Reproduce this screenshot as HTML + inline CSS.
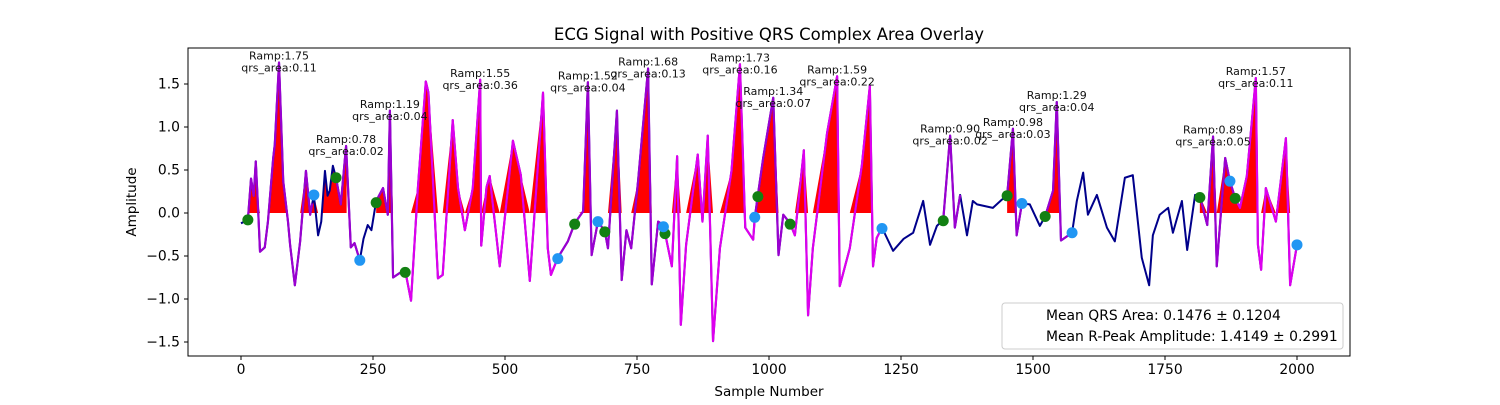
<!DOCTYPE html>
<html><head><meta charset="utf-8"><style>
body{margin:0;background:#fff}
svg text{font-family:"DejaVu Sans","Liberation Sans",sans-serif}
</style></head><body>
<svg id="chart" width="1500" height="400" xmlns="http://www.w3.org/2000/svg">
<rect width="1500" height="400" fill="#fff"/>
<text x="769" y="40" font-size="16.5" text-anchor="middle">ECG Signal with Positive QRS Complex Area Overlay</text>
<g id="plot"></g>
<rect x="188" y="48" width="1162" height="308" fill="none" stroke="#000" stroke-width="1"/>
<text x="769" y="396" font-size="13.5" text-anchor="middle">Sample Number</text>
<text transform="translate(136,202) rotate(-90)" font-size="13.5" text-anchor="middle">Amplitude</text>
<g>
<rect x="1002" y="303" width="341" height="46" rx="3" fill="#fff" fill-opacity="0.8" stroke="#ccc"/>
<text x="1046" y="320" font-size="13.9">Mean QRS Area: 0.1476 ± 0.1204</text>
<text x="1046" y="341" font-size="13.9">Mean R-Peak Amplitude: 1.4149 ± 0.2991</text>
</g>
</svg>
<script>
const samples=[0,13,19,24,28,32,36,45,51,61,64,72,80,89,93,102,112,123,131,138,146,152,159,164,168,174,180,189,199,208,215,225,232,240,247,256,269,278,282,288,300,311,322,335,350,355,373,382,401,411,424,439,453,455,465,471,490,515,530,547,572,581,587,600,619,632,648,657,664,676,689,695,712,721,730,739,752,771,778,790,800,803,816,826,833,843,865,874,884,894,907,929,945,955,970,973,979,989,1008,1018,1027,1040,1049,1066,1074,1083,1110,1129,1134,1153,1176,1191,1197,1204,1214,1235,1255,1273,1292,1305,1318,1330,1343,1352,1362,1375,1386,1394,1424,1440,1451,1462,1469,1479,1494,1513,1523,1538,1545,1553,1574,1583,1595,1604,1621,1640,1655,1674,1689,1706,1720,1727,1740,1756,1765,1782,1792,1807,1816,1830,1841,1848,1864,1873,1883,1892,1905,1922,1926,1932,1941,1960,1979,1987,2000];
const amps=[-0.12,-0.08,0.4,0.2,0.6,0.1,-0.45,-0.4,-0.1,0.64,0.8,1.75,0.37,-0.1,-0.37,-0.84,-0.33,0.49,-0.02,0.21,-0.26,-0.1,0.49,0.2,0.26,0.55,0.41,0.1,0.78,-0.4,-0.35,-0.55,-0.3,-0.14,-0.2,0.14,0.29,-0.02,1.19,-0.75,-0.7,-0.67,-1.02,0.29,1.53,1.4,-0.76,-0.72,1.08,0.29,-0.2,0.29,1.55,-0.38,0.3,0.43,-0.62,0.84,0.44,-0.79,1.4,-0.41,-0.72,-0.52,-0.33,-0.12,0.02,1.52,-0.49,-0.1,-0.21,-0.41,1.19,-0.78,-0.2,-0.41,0.37,1.68,-0.83,-0.1,-0.14,-0.23,-0.62,0.66,-1.3,-0.37,0.68,-0.1,0.9,-1.49,-0.41,0.49,1.73,-0.17,-0.31,-0.06,0.21,0.64,1.34,-0.49,-0.02,-0.12,-0.26,0.73,-1.19,-0.41,0.93,1.59,-0.85,-0.41,0.56,1.48,-0.62,-0.29,-0.17,-0.44,-0.3,-0.23,0.14,-0.37,-0.15,-0.08,0.9,-0.17,0.21,-0.26,0.14,0.1,0.06,0.15,0.2,0.98,-0.26,0.11,0.1,-0.15,-0.04,0.26,1.29,-0.32,-0.23,0.14,0.47,-0.02,0.21,-0.17,-0.33,0.41,0.44,-0.52,-0.84,-0.26,-0.02,0.06,-0.23,0.14,-0.43,0.21,0.2,-0.14,0.89,-0.62,0.64,0.37,0.17,0.06,0.43,1.57,-0.37,-0.66,0.29,-0.1,0.87,-0.84,-0.37];
const purpleSegs=[[13,135],[180,225],[256,311],[600,800],[973,1040],[1330,1362],[1451,1479],[1523,1574],[1816,1883]];
const magentaSegs=[[311,600],[800,973],[1040,1214],[1883,2000]];
const fillRanges=[[13,200],[256,580],[640,1200],[1451,1470],[1523,1553],[1816,1990]];
const onsetS=[13,180,256,311,632,689,803,979,1040,1330,1451,1523,1816,1883];
const onsetV=[-0.08,0.41,0.12,-0.69,-0.13,-0.22,-0.24,0.19,-0.13,-0.09,0.2,-0.04,0.18,0.17];
const offsetS=[138,225,600,676,800,973,1214,1479,1574,1873,2000];
const offsetV=[0.21,-0.55,-0.53,-0.1,-0.16,-0.05,-0.18,0.11,-0.23,0.37,-0.37];
const peakS=[72,199,282,453,657,771,945,1008,1129,1343,1462,1545,1841,1922];
const peakRamp=["1.75","0.78","1.19","1.55","1.52","1.68","1.73","1.34","1.59","0.90","0.98","1.29","0.89","1.57"];
const peakArea=["0.11","0.02","0.04","0.36","0.04","0.13","0.16","0.07","0.22","0.02","0.03","0.04","0.05","0.11"];
const xTicks=[0,250,500,750,1000,1250,1500,1750,2000];
const yTicks=[-1.5,-1.0,-0.5,0.0,0.5,1.0,1.5];

const NS="http://www.w3.org/2000/svg";
const X=s=>241+s*0.528, Y=v=>213-v*86;
const g=document.getElementById('plot');
function mk(t,a){const e=document.createElementNS(NS,t);for(const k in a)e.setAttribute(k,a[k]);return e;}
function interp(s){for(let i=1;i<samples.length;i++){if(samples[i]>=s){const a=samples[i-1],b=samples[i];const t=b===a?0:(s-a)/(b-a);return amps[i-1]+t*(amps[i]-amps[i-1]);}}return amps[amps.length-1];}
function segPts(a,b){const p=[[a,interp(a)]];samples.forEach((s,i)=>{if(s>a&&s<b)p.push([s,amps[i]]);});p.push([b,interp(b)]);return p;}
fillRanges.forEach(r=>{const p=segPts(r[0],r[1]);let d=`M${X(r[0])},${Y(0)}`;p.forEach(q=>{d+=` L${X(q[0])},${Y(Math.max(0,q[1]))}`});d+=` L${X(r[1])},${Y(0)}Z`;
const e=mk('path',{d:d,fill:'#ff0000'});


g.appendChild(e);});
{const p=samples.map((s,i)=>X(s)+','+Y(amps[i])).join(' ');
const e=mk('polyline',{points:p,fill:'none',stroke:'#00008b','stroke-width':2,'stroke-linejoin':'round'});


g.appendChild(e);}
function drawSegs(list,col,name){list.forEach(r=>{const p=segPts(r[0],r[1]).map(q=>X(q[0])+','+Y(q[1])).join(' ');
const e=mk('polyline',{points:p,fill:'none',stroke:col,'stroke-width':2.2,'stroke-linejoin':'round'});


g.appendChild(e);});}
drawSegs(magentaSegs,'#dd00ee','qrs-overlay-segment');
drawSegs(purpleSegs,'#9a00d0','qrs-overlay-segment');
onsetS.forEach((s,i)=>{const e=mk('circle',{cx:X(s),cy:Y(onsetV[i]),r:5.5,fill:'#128012'});


g.appendChild(e);});
offsetS.forEach((s,i)=>{const e=mk('circle',{cx:X(s),cy:Y(offsetV[i]),r:5.5,fill:'#2196f3'});


g.appendChild(e);});
peakS.forEach((s,i)=>{const r=parseFloat(peakRamp[i]);const y=Y(r+0.08);
const t1=mk('text',{x:X(s),y:y+4,'font-size':11,'text-anchor':'middle',fill:'#111'});t1.textContent='Ramp:'+peakRamp[i];


g.appendChild(t1);
const t2=mk('text',{x:X(s),y:y+16,'font-size':11,'text-anchor':'middle',fill:'#111'});t2.textContent='qrs_area:'+peakArea[i];


g.appendChild(t2);});
xTicks.forEach(v=>{const x=X(v);
const l=mk('line',{x1:x,x2:x,y1:356,y2:360,stroke:'#000'});


g.appendChild(l);
const t=mk('text',{x:x,y:374,'font-size':13.9,'text-anchor':'middle'});t.textContent=v;


g.appendChild(t);});
yTicks.forEach(v=>{const y=Y(v);
const l=mk('line',{x1:184,x2:188,y1:y,y2:y,stroke:'#000'});


g.appendChild(l);
const t=mk('text',{x:180,y:y+4.5,'font-size':13.9,'text-anchor':'end'});t.textContent=(v<0?'−':'')+Math.abs(v).toFixed(1);


g.appendChild(t);});
</script>
</body></html>
